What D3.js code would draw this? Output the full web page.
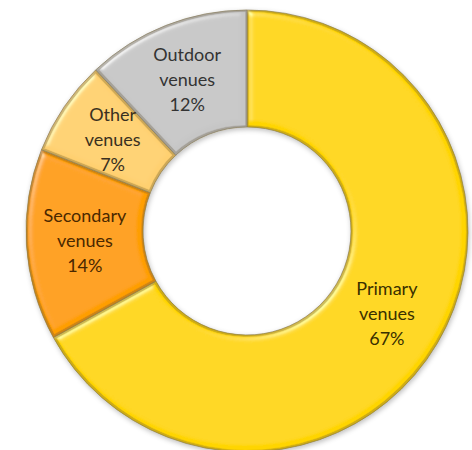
<!DOCTYPE html>
<html>
<head>
<meta charset="utf-8">
<script src="https://cdn.jsdelivr.net/npm/d3@7/dist/d3.min.js"></script>
<style>
  html, body { margin: 0; padding: 0; background: #ffffff; }
  svg { display: block; }
</style>
</head>
<body>
<svg id="chart" width="472" height="450"></svg>
<script>
const categories = ["Primary venues", "Secondary venues", "Other venues", "Outdoor venues"];
const labelLines = [["Primary", "venues"], ["Secondary", "venues"], ["Other", "venues"], ["Outdoor", "venues"]];
const values = [67, 14, 7, 12];
const colors = ["#FFD500", "#FF9E00", "#FFD070", "#C6C6C6"];
const textColors = ["#3a3000", "#4a2800", "#3a3020", "#333333"];

const svg = d3.select("#chart");
const cx = 247, cy = 231, rOuter = 221, rInner = 104;

const defs = svg.append("defs");
const f = defs.append("filter").attr("id", "bevel")
  .attr("x", "-10%").attr("y", "-10%").attr("width", "120%").attr("height", "120%");
f.append("feGaussianBlur").attr("in", "SourceAlpha").attr("stdDeviation", 3).attr("result", "blur");
const spec = f.append("feSpecularLighting").attr("in", "blur").attr("surfaceScale", 3)
  .attr("specularConstant", 0.7).attr("specularExponent", 35)
  .attr("lighting-color", "#ffffff").attr("result", "spec");
spec.append("feDistantLight").attr("azimuth", 225).attr("elevation", 45);
f.append("feComposite").attr("in", "spec").attr("in2", "SourceAlpha").attr("operator", "in").attr("result", "specIn");
f.append("feComposite").attr("in", "SourceGraphic").attr("in2", "specIn")
  .attr("operator", "arithmetic").attr("k1", 0).attr("k2", 1).attr("k3", 0.45).attr("k4", 0).attr("result", "lit");
f.append("feMorphology").attr("in", "SourceAlpha").attr("operator", "erode").attr("radius", 1.5).attr("result", "eroded");
f.append("feComposite").attr("in", "SourceAlpha").attr("in2", "eroded").attr("operator", "out").attr("result", "edge");
f.append("feFlood").attr("flood-color", "#6b5a20").attr("flood-opacity", 0.45);
f.append("feComposite").attr("in2", "edge").attr("operator", "in").attr("result", "edgeCol");
const merge = f.append("feMerge");
merge.append("feMergeNode").attr("in", "lit");
merge.append("feMergeNode").attr("in", "edgeCol");

const shadow = defs.append("filter").attr("id", "shadow")
  .attr("x", "-10%").attr("y", "-10%").attr("width", "120%").attr("height", "120%");
shadow.append("feGaussianBlur").attr("in", "SourceAlpha").attr("stdDeviation", 2.5).attr("result", "b");
shadow.append("feOffset").attr("in", "b").attr("dx", 1).attr("dy", 2).attr("result", "o");
shadow.append("feFlood").attr("flood-color", "#000").attr("flood-opacity", 0.25);
shadow.append("feComposite").attr("in2", "o").attr("operator", "in").attr("result", "s");
const m2 = shadow.append("feMerge");
m2.append("feMergeNode").attr("in", "s");
m2.append("feMergeNode").attr("in", "SourceGraphic");

const data = categories.map((c, i) => ({ name: c, value: values[i], color: colors[i], lines: labelLines[i], text: textColors[i] }));

const pie = d3.pie().value(d => d.value).sort(null).startAngle(0).endAngle(2 * Math.PI);
const arc = d3.arc().innerRadius(rInner).outerRadius(rOuter);
const arcs = pie(data);

const g = svg.append("g").attr("transform", `translate(${cx},${cy})`);
const sliceG = g.append("g").attr("filter", "url(#shadow)");

sliceG.selectAll("path.slice")
  .data(arcs)
  .join("path")
  .attr("class", "slice")
  .attr("d", arc)
  .attr("fill", d => d.data.color)
  .attr("stroke", "rgba(150,140,110,0.6)")
  .attr("stroke-width", 1)
  .attr("filter", "url(#bevel)");

const total = d3.sum(values);
const labelG = g.append("g");
arcs.forEach(d => {
  const [x, y] = arc.centroid(d);
  const lines = d.data.lines.concat([Math.round(d.data.value / total * 100) + "%"]);
  const t = labelG.append("text")
    .attr("x", x).attr("y", y)
    .attr("text-anchor", "middle")
    .attr("font-family", "Lato, 'Open Sans', sans-serif")
    .attr("font-size", 18)
    .attr("fill", d.data.text);
  lines.forEach((ln, i) => {
    t.append("tspan").attr("x", x).attr("y", y + (i - 1) * 25 + 6).text(ln);
  });
});
</script>
</body>
</html>
